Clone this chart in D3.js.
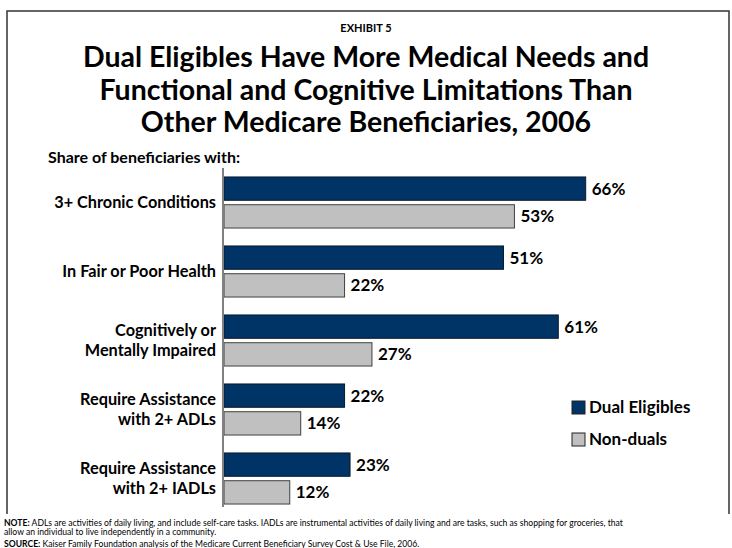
<!DOCTYPE html>
<html>
<head>
<meta charset="utf-8">
<script src="https://cdn.jsdelivr.net/npm/d3@7"></script>
<style>
  body { margin: 0; background: #fff; }
  text { font-family: Lato, "Open Sans", sans-serif; font-weight: bold; fill: #000; }
</style>
</head>
<body>
<svg id="chart" width="732" height="548"></svg>
<script>
const categories = [
  "3+ Chronic Conditions",
  "In Fair or Poor Health",
  "Cognitively or|Mentally Impaired",
  "Require Assistance|with 2+ ADLs",
  "Require Assistance|with 2+ IADLs"
]
const seriesNames = ["Dual Eligibles", "Non-duals"]
const dualEligibles = [66, 51, 61, 22, 23]
const nonDuals = [53, 22, 27, 14, 12]
const colors = ["#003366", "#c0c0c0"]

const svg = d3.select('#chart')

// frame
svg.append('path')
  .attr('d', 'M7,514 V11 H729 V514')
  .attr('fill', 'none')
  .attr('stroke', '#333')
  .attr('stroke-width', 1.5)

// titles
svg.append('text').attr('x', 366).attr('y', 32)
  .attr('text-anchor', 'middle').style('font-size', '11px').text('EXHIBIT 5')
const titleLines = [
  "Dual Eligibles Have More Medical Needs and",
  "Functional and Cognitive Limitations Than",
  "Other Medicare Beneficiaries, 2006"
]
svg.append('g').selectAll('text')
  .data(titleLines)
  .enter()
  .append('text')
  .attr('x', 366)
  .attr('y', (d, i) => 67 + i * 32.5)
  .attr('text-anchor', 'middle')
  .style('font-size', '28.5px')
  .text(d => d)

svg.append('text').attr('x', 48).attr('y', 163)
  .style('font-size', '16px').text('Share of beneficiaries with:')

// scales
let xScale = d3.scaleLinear().domain([0, 100]).range([224, 772])
let yScale = d3.scaleBand().domain(categories).range([168, 513])
  .paddingInner(0.26).paddingOuter(0.13)
let ySub = d3.scaleBand().domain(seriesNames).range([0, yScale.bandwidth()])
  .paddingInner(0.16)

const rows = categories.map((c, i) => ({
  category: c,
  values: [
    {series: seriesNames[0], value: dualEligibles[i]},
    {series: seriesNames[1], value: nonDuals[i]}
  ]
}))

const groups = svg.append('g').selectAll('g')
  .data(rows)
  .enter()
  .append('g')
  .attr('transform', d => `translate(0, ${yScale(d.category)})`)

groups.selectAll('rect')
  .data(d => d.values)
  .enter()
  .append('rect')
  .attr('x', xScale(0))
  .attr('y', d => ySub(d.series))
  .attr('width', d => xScale(d.value) - xScale(0))
  .attr('height', ySub.bandwidth())
  .attr('fill', (d, i) => colors[i])
  .attr('stroke', (d, i) => i === 0 ? '#0a1a2a' : '#404040')
  .attr('stroke-width', 1)

groups.selectAll('text.val')
  .data(d => d.values)
  .enter()
  .append('text')
  .attr('class', 'val')
  .attr('x', d => xScale(d.value) + 6)
  .attr('y', d => ySub(d.series) + ySub.bandwidth() / 2)
  .attr('dy', '0.35em')
  .style('font-size', '17px')
  .text(d => d.value + '%')

// category labels
groups.each(function(d) {
  const lines = d.category.split('|')
  const mid = yScale.bandwidth() / 2
  d3.select(this).selectAll('text.cat')
    .data(lines)
    .enter()
    .append('text')
    .attr('class', 'cat')
    .attr('x', 216)
    .attr('y', (l, i) => mid + (i - (lines.length - 1) / 2) * 20)
    .attr('dy', '0.35em')
    .attr('text-anchor', 'end')
    .style('font-size', '16.3px')
    .text(l => l)
})

// axis line
const last = categories[categories.length - 1]
svg.append('line')
  .attr('x1', 223).attr('x2', 223)
  .attr('y1', yScale.range()[0])
  .attr('y2', yScale(last) + yScale.bandwidth() + 3)
  .attr('stroke', '#808080')
  .attr('stroke-width', 2)

// legend
const legend = svg.append('g').selectAll('g')
  .data(seriesNames)
  .enter()
  .append('g')
  .attr('transform', (d, i) => `translate(572, ${401 + i * 32})`)
legend.append('rect')
  .attr('width', 13).attr('height', 13)
  .attr('fill', (d, i) => colors[i])
  .attr('stroke', '#222').attr('stroke-width', 1)
legend.append('text')
  .attr('x', 17).attr('y', 6.5).attr('dy', '0.35em')
  .style('font-size', '17px')
  .text(d => d)

// notes
const notes = [
  ["NOTE:", " ADLs are activities of daily living, and include self-care tasks.  IADLs are instrumental activities of daily living and are tasks, such as shopping for groceries, that"],
  ["", "allow an individual to live independently in a community."],
  ["SOURCE:", " Kaiser Family Foundation analysis of the Medicare Current Beneficiary Survey Cost & Use File, 2006."]
]
const noteText = svg.append('g').selectAll('text')
  .data(notes)
  .enter()
  .append('text')
  .attr('x', 4)
  .attr('y', (d, i) => [526, 535, 547][i])
  .style('font-size', '8.6px')
noteText.append('tspan').text(d => d[0])
noteText.append('tspan').style('font-weight', 'normal').text(d => d[1])
</script>
</body>
</html>
